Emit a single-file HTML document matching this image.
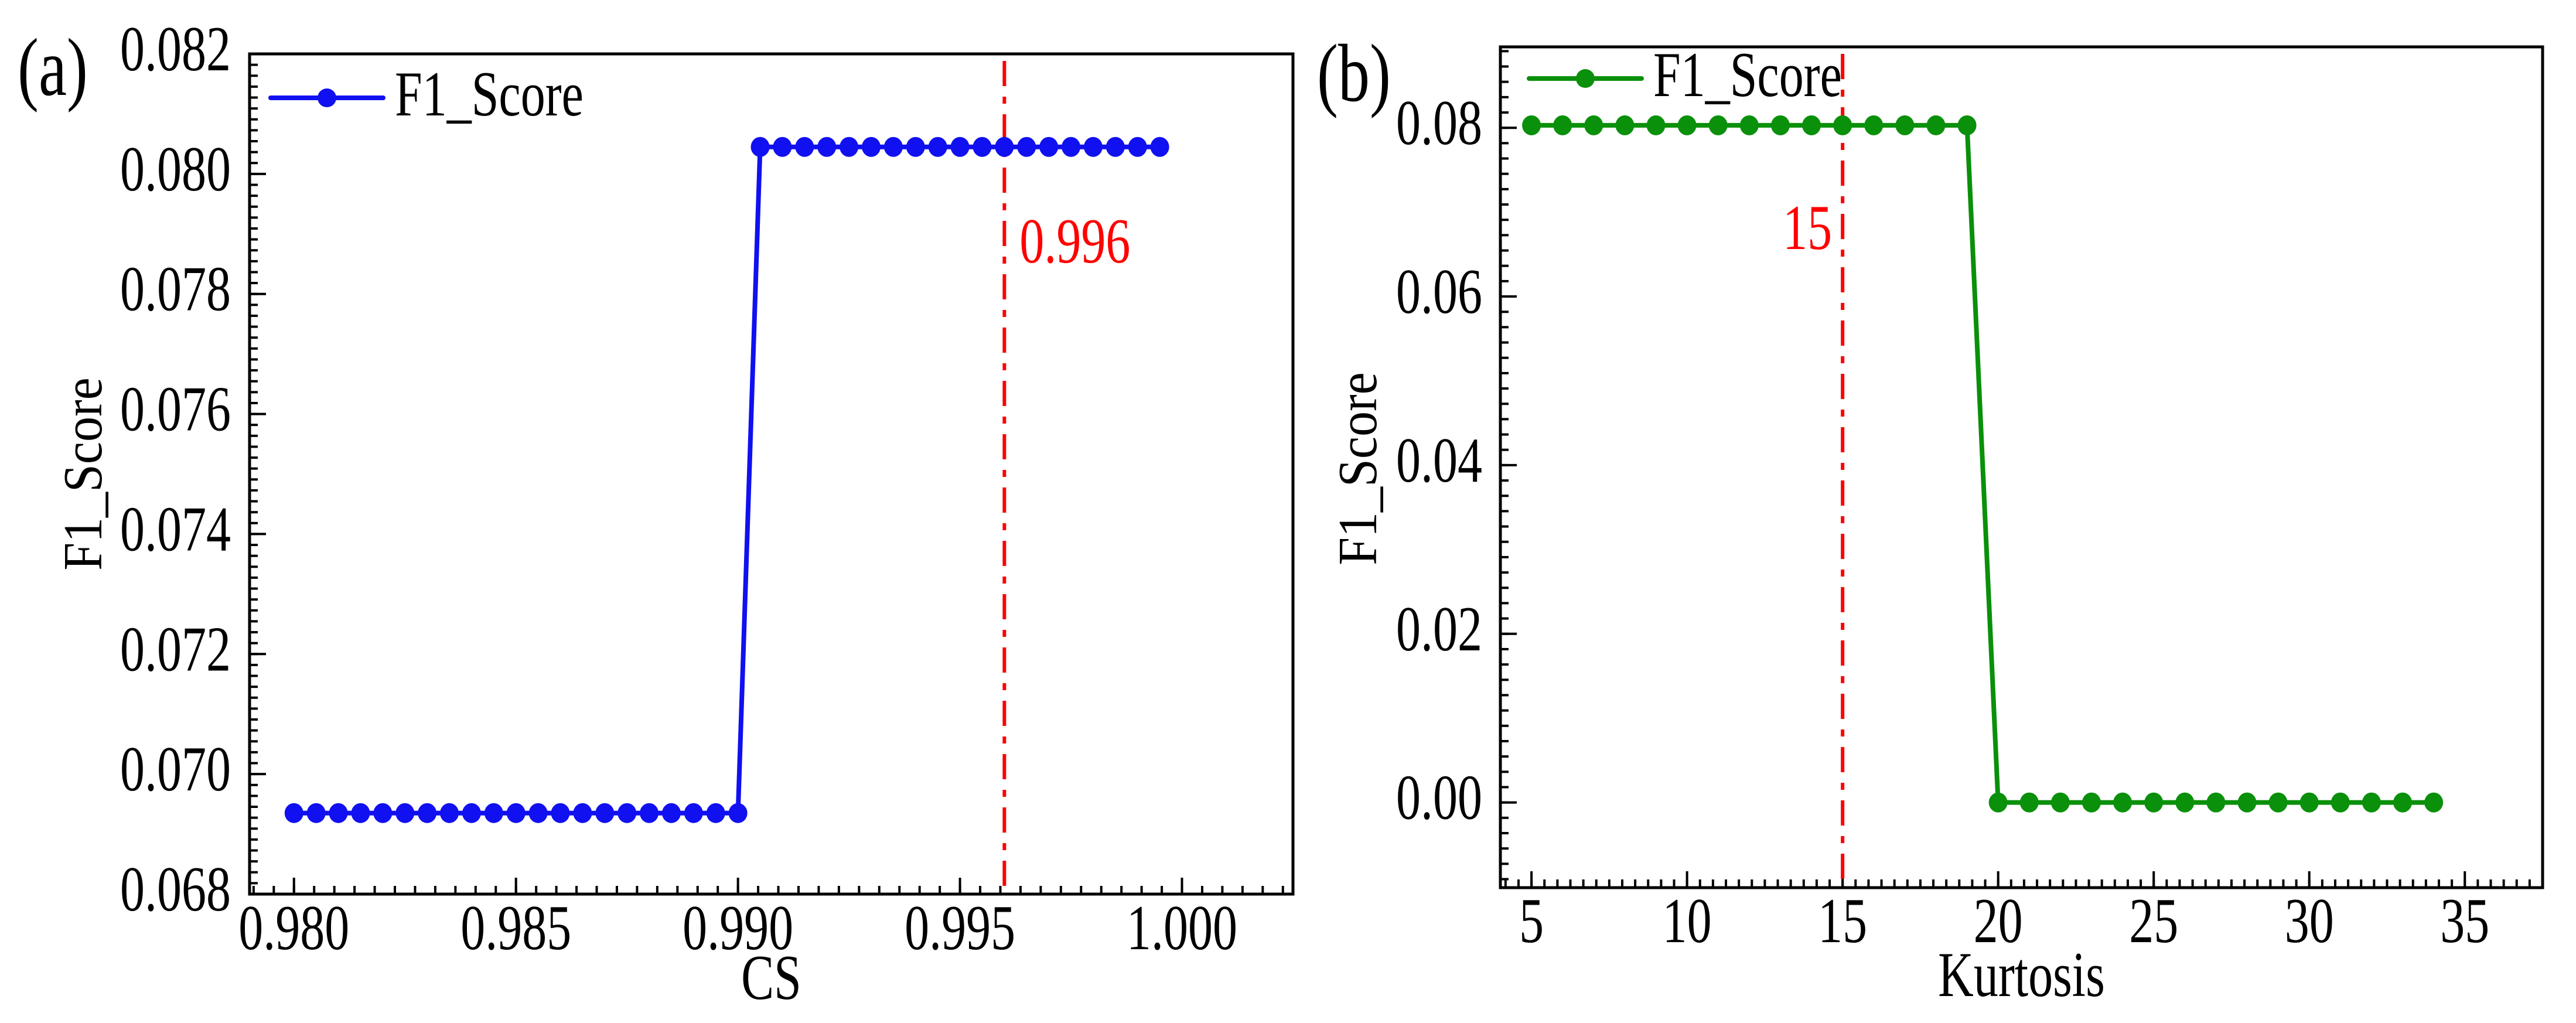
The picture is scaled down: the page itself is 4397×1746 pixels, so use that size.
<!DOCTYPE html>
<html><head><meta charset="utf-8"><style>
html,body{margin:0;padding:0;background:#fff}
svg{display:block}
text{font-family:"Liberation Serif","Times New Roman",serif}
</style></head><body>
<svg id="fig" width="4397" height="1746" viewBox="0 0 4397 1746" xmlns="http://www.w3.org/2000/svg">
<rect width="4397" height="1746" fill="#fff"/>
<g id="pa"></g>
<g id="pb"></g>
</svg>
<script>
// Panel (a) data
const aLowX = [0.9800,0.9805,0.9810,0.9815,0.9820,0.9825,0.9830,0.9835,0.9840,0.9845,0.9850,0.9855,0.9860,0.9865,0.9870,0.9875,0.9880,0.9885,0.9890,0.9895,0.9900];
const aHighX = [0.9905,0.9910,0.9915,0.9920,0.9925,0.9930,0.9935,0.9940,0.9945,0.9950,0.9955,0.9960,0.9965,0.9970,0.9975,0.9980,0.9985,0.9990,0.9995];
const aLowY = [0.06935,0.06935,0.06935,0.06935,0.06935,0.06935,0.06935,0.06935,0.06935,0.06935,0.06935,0.06935,0.06935,0.06935,0.06935,0.06935,0.06935,0.06935,0.06935,0.06935,0.06935];
const aHighY = [0.08045,0.08045,0.08045,0.08045,0.08045,0.08045,0.08045,0.08045,0.08045,0.08045,0.08045,0.08045,0.08045,0.08045,0.08045,0.08045,0.08045,0.08045,0.08045];
const aXTicks = [0.980,0.985,0.990,0.995,1.000];
const aXTickLabels = ["0.980","0.985","0.990","0.995","1.000"];
const aYTicks = [0.068,0.070,0.072,0.074,0.076,0.078,0.080,0.082];
const aYTickLabels = ["0.068","0.070","0.072","0.074","0.076","0.078","0.080","0.082"];
const aVLine = [0.996];
const aVLabel = ["0.996"];
// Panel (b) data
const bX = [5,6,7,8,9,10,11,12,13,14,15,16,17,18,19,20,21,22,23,24,25,26,27,28,29,30,31,32,33,34];
const bY = [0.0803,0.0803,0.0803,0.0803,0.0803,0.0803,0.0803,0.0803,0.0803,0.0803,0.0803,0.0803,0.0803,0.0803,0.0803,0,0,0,0,0,0,0,0,0,0,0,0,0,0,0];
const bXTicks = [5,10,15,20,25,30,35];
const bXTickLabels = ["5","10","15","20","25","30","35"];
const bYTicks = [0.00,0.02,0.04,0.06,0.08];
const bYTickLabels = ["0.00","0.02","0.04","0.06","0.08"];
const bVLine = [15];
const bVLabel = ["15"];

const NS = "http://www.w3.org/2000/svg";
const SY = 1.3;
function mk(parent, tag, attrs, txt){
  const e = document.createElementNS(NS, tag);
  for (const k in attrs) e.setAttribute(k, attrs[k]);
  if (txt !== undefined) e.textContent = txt;
  parent.appendChild(e);
  return e;
}
function txt(parent, x, y, size, str, extra){
  const a = Object.assign({x:0,y:0,'font-size':size,transform:`translate(${x},${y}) scale(1,${SY})`}, extra||{});
  return mk(parent,'text',a,str);
}
function scale(d0,d1,r0,r1){ return v => r0 + (v-d0)/(d1-d0)*(r1-r0); }

function drawPanel(g, cfg){
  const {L,R,T,B,xd,yd,xTicks,xLabels,yTicks,yLabels,xMinorDiv,yMinorDiv,color,
    xTitle,yTitleX,panelLabel,plX,plY,legX,legY,vLine,vLabel,vLabelX,vLabelY,vAnchor,xLabY,xTitleY,yLabX,series} = cfg;
  const xs = scale(xd[0],xd[1],L,R), ys = scale(yd[0],yd[1],B,T);
  const xstep = (xTicks[1]-xTicks[0])/xMinorDiv;
  for (let v = xTicks[0] - xstep*Math.floor((xTicks[0]-xd[0])/xstep); v <= xd[1]+1e-12; v += xstep){
    const px = xs(v); if (px < L+2 || px > R-2) continue;
    const t = mk(g,'line',{x1:px,x2:px,y1:B,y2:B-14,stroke:'#000','stroke-width':4});
    
    
  }
  const ystep = (yTicks[1]-yTicks[0])/yMinorDiv;
  for (let v = yTicks[0] - ystep*Math.floor((yTicks[0]-yd[0])/ystep); v <= yd[1]+1e-12; v += ystep){
    const py = ys(v); if (py < T+2 || py > B-2) continue;
    const t = mk(g,'line',{x1:L,x2:L+14,y1:py,y2:py,stroke:'#000','stroke-width':4});
    
    
  }
  xTicks.forEach((v,i)=>{
    const px = xs(v);
    const t = mk(g,'line',{x1:px,x2:px,y1:B,y2:B-28,stroke:'#000','stroke-width':4});
    
    
    const l = txt(g,px,xLabY,84,xLabels[i],{'text-anchor':'middle'});
    
    
  });
  yTicks.forEach((v,i)=>{
    const py = ys(v);
    const t = mk(g,'line',{x1:L,x2:L+28,y1:py,y2:py,stroke:'#000','stroke-width':4});
    
    
    const l = txt(g,yLabX,py+28,84,yLabels[i],{'text-anchor':'end'});
    
    
  });
  const rx = xs(vLine[0]);
  const rl = mk(g,'line',{x1:rx,x2:rx,y1:T+12,y2:B,stroke:'#ff0000','stroke-width':6,'stroke-dasharray':'43 18 12 18'});
  
  
  const rt = txt(g,vLabelX(rx),vLabelY,84,vLabel[0],{fill:'#ff0000','text-anchor':vAnchor});
  
  
  const pts = series.map(p=>xs(p[0])+','+ys(p[1])).join(' ');
  const pl = mk(g,'polyline',{points:pts,fill:'none',stroke:color,'stroke-width':8,'stroke-linejoin':'round'});
  
  
  series.forEach(p=>{
    const c = mk(g,'ellipse',{cx:xs(p[0]),cy:ys(p[1]),rx:16,ry:17,fill:color});
    
    
  });
  const fr = mk(g,'rect',{x:L,y:T,width:R-L,height:B-T,fill:'none',stroke:'#000','stroke-width':5});
  
  
  const lg = mk(g,'g',{});
  
  
  mk(lg,'line',{x1:legX,x2:legX+192,y1:legY,y2:legY,stroke:color,'stroke-width':8,'stroke-linecap':'round'});
  mk(lg,'ellipse',{cx:legX+96,cy:legY,rx:16,ry:16,fill:color});
  const lt = txt(lg,legX+212,legY+30,84,'F1_Score');
  
  
  const xt = txt(g,(xs(xd[0])+xs(xd[1]))/2 + cfg.xTitleDx,xTitleY,84,xTitle,{'text-anchor':'middle'});
  
  
  const yt = mk(g,'text',{x:0,y:0,'font-size':86,'text-anchor':'middle',transform:`translate(${yTitleX},${cfg.yTitleY}) rotate(-90) scale(1,1.1)`},'F1_Score');
  
  
  const pt = txt(g,plX,plY,108,panelLabel);
  
  
}

const aSeries = aLowX.map((x,i)=>[x,aLowY[i]]).concat(aHighX.map((x,i)=>[x,aHighY[i]]));
drawPanel(document.getElementById('pa'),{
  L:426,R:2207,T:92,B:1526,xd:[0.979,1.0025],yd:[0.068,0.082],
  xTicks:aXTicks,xLabels:aXTickLabels,yTicks:aYTicks,yLabels:aYTickLabels,
  xMinorDiv:11,yMinorDiv:11,color:'#1010f0',xTitle:'CS',xTitleDx:0,yTitleX:173,yTitleY:809,
  panelLabel:'(a)',plX:30,plY:162,legX:462,legY:167,vLine:aVLine,vLabel:aVLabel,
  vLabelX:rx=>rx+26,vLabelY:448,vAnchor:'start',xLabY:1620,xTitleY:1705,yLabX:394,series:aSeries
});
const bSeries = bX.map((x,i)=>[x,bY[i]]);
drawPanel(document.getElementById('pb'),{
  L:2561,R:4340,T:80,B:1515,xd:[4.0,37.5],yd:[-0.0101,0.0896],
  xTicks:bXTicks,xLabels:bXTickLabels,yTicks:bYTicks,yLabels:bYTickLabels,
  xMinorDiv:12,yMinorDiv:11,color:'#0a900a',xTitle:'Kurtosis',xTitleDx:0,yTitleX:2349,yTitleY:800,
  panelLabel:'(b)',plX:2248,plY:172,legX:2610,legY:134,vLine:bVLine,vLabel:bVLabel,
  vLabelX:rx=>rx-18,vLabelY:425,vAnchor:'end',xLabY:1608,xTitleY:1700,yLabX:2530,series:bSeries
});
</script>
</body></html>
